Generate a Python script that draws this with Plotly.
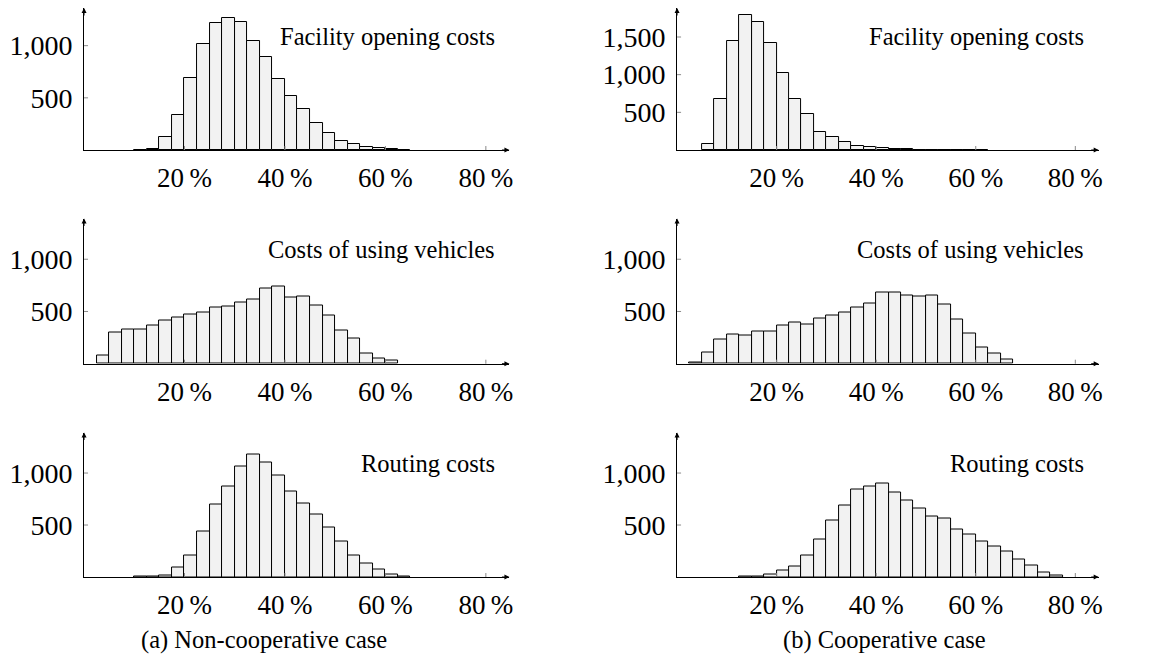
import plotly.graph_objects as go

# ---------------- data ----------------
BIN_WIDTH = 2.5  # percent

noncoop_facility_start = 10.0
noncoop_facility = [3, 10, 121, 339, 687, 1013, 1220, 1268, 1227, 1045, 895, 677,
                    518, 390, 256, 160, 83, 54, 29, 16, 10, 4]

coop_facility_start = 5.0
coop_facility = [75, 673, 1451, 1792, 1695, 1416, 1018, 673, 478, 243, 177, 111,
                 58, 40, 22, 15, 8, 6, 5, 4, 3, 3, 2]

noncoop_vehicles_start = 2.5
noncoop_vehicles = [77, 300, 332, 329, 364, 415, 441, 473, 489, 537, 546, 588,
                    617, 719, 741, 629, 645, 556, 466, 316, 243, 96, 51, 26]

coop_vehicles_start = 2.5
coop_vehicles = [13, 109, 236, 281, 272, 304, 307, 361, 396, 377, 435, 457, 492,
                 540, 578, 684, 681, 655, 645, 649, 565, 425, 291, 157, 93, 38]

noncoop_routing_start = 10.0
noncoop_routing = [2, 5, 19, 87, 209, 437, 698, 871, 1064, 1183, 1106, 974, 826,
                   711, 605, 479, 341, 209, 129, 71, 26, 6]

coop_routing_start = 12.5
coop_routing = [3, 5, 22, 64, 103, 203, 363, 543, 688, 842, 871, 904, 814, 736,
                659, 579, 559, 460, 405, 341, 293, 244, 170, 109, 45, 16]

panel_titles = ["Facility opening costs", "Costs of using vehicles", "Routing costs"]
captions = ["(a) Non-cooperative case", "(b) Cooperative case"]

x_tickvals = [20, 40, 60, 80]
x_ticktext = ["20\u2009%", "40\u2009%", "60\u2009%", "80\u2009%"]
y_tickvals_std = [500, 1000]
y_ticktext_std = ["500", "1,000"]
y_tickvals_big = [500, 1000, 1500]
y_ticktext_big = ["500", "1,000", "1,500"]

# ---------------- layout geometry ----------------
W, H = 1155, 668
OFF = 8  # page body margin of the browser
FONT = "Liberation Serif"
X_MAX = 84.7
col_px = [(84.3, 511.2), (679.4, 1102.5)]                 # left/right edges (px)
row_px = [(8.0, 150.0), (218.5, 363.7), (432.5, 577.0)]   # top/bottom (px)


def fx(px):
    return (px - OFF) / W


def fy(px):
    return min(1.0, 1 - (px - OFF) / H)


panels = [
    # (row, col, start, counts, ymax, yticks, yticktext)
    (0, 0, noncoop_facility_start, noncoop_facility, 1361, y_tickvals_std, y_ticktext_std),
    (0, 1, coop_facility_start, coop_facility, 1885, y_tickvals_big, y_ticktext_big),
    (1, 0, noncoop_vehicles_start, noncoop_vehicles, 1390, y_tickvals_std, y_ticktext_std),
    (1, 1, coop_vehicles_start, coop_vehicles, 1390, y_tickvals_std, y_ticktext_std),
    (2, 0, noncoop_routing_start, noncoop_routing, 1390, y_tickvals_std, y_ticktext_std),
    (2, 1, coop_routing_start, coop_routing, 1390, y_tickvals_std, y_ticktext_std),
]

fig = go.Figure()
layout = dict(
    width=W, height=H,
    margin=dict(l=0, r=0, t=0, b=0),
    paper_bgcolor="white", plot_bgcolor="white",
    showlegend=False,
    font=dict(family=FONT, color="black"),
    bargap=0,
)
shapes = []
annotations = []

for i, (row, col, start, counts, ymax, ytv, ytt) in enumerate(panels):
    idx = i + 1
    xa = "x" if idx == 1 else f"x{idx}"
    ya = "y" if idx == 1 else f"y{idx}"
    xkey = "xaxis" if idx == 1 else f"xaxis{idx}"
    ykey = "yaxis" if idx == 1 else f"yaxis{idx}"

    lefts = [start + BIN_WIDTH * k for k in range(len(counts))]
    fig.add_trace(go.Bar(
        x=lefts, y=counts, width=BIN_WIDTH, offset=0,
        marker=dict(color="#f2f2f2", line=dict(color="black", width=1)),
        xaxis=xa, yaxis=ya, hoverinfo="skip", showlegend=False,
    ))

    x0p, x1p = col_px[col]
    t_px, b_px = row_px[row]
    layout[xkey] = dict(
        domain=[fx(x0p), fx(x1p)], range=[0, X_MAX], anchor=ya,
        showline=True, linecolor="black", linewidth=1,
        showgrid=False, zeroline=False, ticks="",
        tickvals=x_tickvals, ticktext=x_ticktext,
        tickfont=dict(family=FONT, size=27, color="black"),
        ticklabelstandoff=4,
    )
    layout[ykey] = dict(
        domain=[fy(b_px), fy(t_px)], range=[0, ymax], anchor=xa,
        showline=True, linecolor="black", linewidth=1,
        showgrid=False, zeroline=False, ticks="",
        tickvals=ytv, ticktext=ytt,
        tickfont=dict(family=FONT, size=28, color="black"),
        ticklabelstandoff=5,
    )

    # crossing tick marks
    for tv in x_tickvals:
        shapes.append(dict(type="line", xref=xa, yref=ya, x0=tv, x1=tv,
                           ysizemode="pixel", yanchor=0, y0=-4, y1=4,
                           line=dict(color="#8a8a8a", width=1), layer="above"))
    for tv in ytv:
        shapes.append(dict(type="line", xref=xa, yref=ya, y0=tv, y1=tv,
                           xsizemode="pixel", xanchor=0, x0=-4, x1=4,
                           line=dict(color="#8a8a8a", width=1), layer="above"))

    # arrow heads
    annotations.append(dict(xref=xa, yref=ya, x=X_MAX, y=0, ax=-9, ay=0,
                            axref="pixel", ayref="pixel", text="", showarrow=True,
                            arrowhead=2, arrowsize=1, arrowwidth=1,
                            arrowcolor="black", standoff=0))
    annotations.append(dict(xref=xa, yref=ya, x=0, y=ymax, ax=0, ay=9,
                            axref="pixel", ayref="pixel", text="", showarrow=True,
                            arrowhead=2, arrowsize=1, arrowwidth=1,
                            arrowcolor="black", standoff=0))

    # panel title (centre of text ~ 32 px below the nominal panel top)
    nominal_top = [5.0, 218.5, 432.5][row]
    right_px = x1p - 13
    annotations.append(dict(xref="paper", yref="paper",
                            x=fx(right_px), y=fy(nominal_top + 31),
                            xanchor="right", yanchor="middle",
                            text=panel_titles[row], showarrow=False,
                            font=dict(family=FONT, size=24.5, color="black")))

# captions
annotations.append(dict(xref="paper", yref="paper", x=fx(265), y=fy(640),
                        xanchor="center", yanchor="middle", text=captions[0],
                        showarrow=False, font=dict(family=FONT, size=24.5, color="black")))
annotations.append(dict(xref="paper", yref="paper", x=fx(888), y=fy(640),
                        xanchor="center", yanchor="middle", text=captions[1],
                        showarrow=False, font=dict(family=FONT, size=24.5, color="black")))

layout["shapes"] = shapes
layout["annotations"] = annotations
fig.update_layout(**layout)
fig.write_html("out.html")
